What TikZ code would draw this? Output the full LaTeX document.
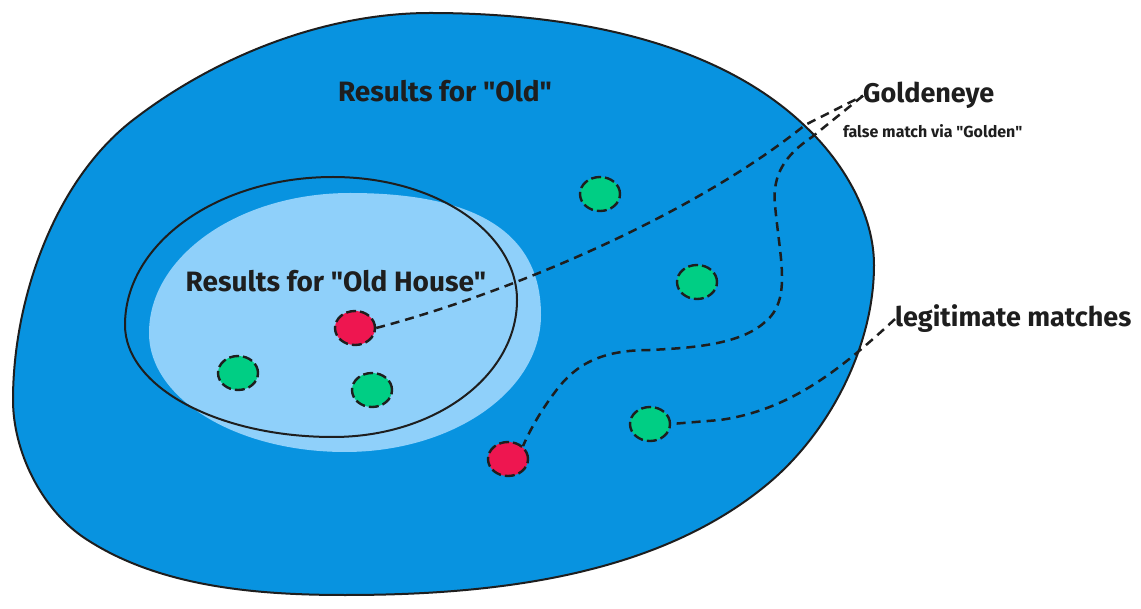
\documentclass[tikz,border=0pt]{standalone}
\usepackage{fontspec}
\setmainfont{Fira Sans}
\usetikzlibrary{shapes.geometric, positioning}

\definecolor{oldblue}{HTML}{0893E0}
\definecolor{houseblue}{HTML}{8FD0FA}
\definecolor{falsered}{HTML}{EE1650}
\definecolor{hitgreen}{HTML}{00CE84}
\definecolor{ink}{HTML}{1E1E1E}
\newcommand{\qt}{\textquotedbl}

\begin{document}
\begin{tikzpicture}[x=1pt, y=-1pt,
    hit/.style={ellipse, draw=ink, line width=2.4pt, dash pattern=on 10pt off 4pt, minimum width=40pt, minimum height=34pt, inner sep=0pt},
    link/.style={draw=ink, line width=2.5pt, dash pattern=on 9pt off 6pt},
    bigtext/.style={font=\fontsize{27}{30}\selectfont\bfseries, text=ink, inner sep=0pt},
    titletext/.style={font=\fontsize{28}{31}\selectfont\bfseries, text=ink, inner sep=0pt},
    smalltext/.style={font=\fontsize{16}{19}\selectfont\bfseries, text=ink, inner sep=0pt},
]
\useasboundingbox (0,0) rectangle (1141,609);
\fill[white] (0,0) rectangle (1141,609);

% results for "Old"
\draw[ink, line width=2pt, fill=oldblue] (13,400)
    .. controls (13,300) and (54,181) .. (133,120)
    .. controls (216,56) and (325,13) .. (430,13)
    .. controls (560,13) and (713,37) .. (806,127)
    .. controls (843,162) and (874,214) .. (874,265)
    .. controls (874,345) and (831,430) .. (770,482)
    .. controls (658,577) and (492,595) .. (345,595)
    .. controls (256,595) and (157,587) .. (83,537)
    .. controls (41,508) and (13,451) .. cycle;

% results for "Old House"
\fill[houseblue] (149,333)
    .. controls (149,256) and (239,193) .. (350,193)
    .. controls (480,193) and (541,235) .. (541,315)
    .. controls (541,391) and (453,452) .. (345,452)
    .. controls (237,452) and (149,399) .. cycle;
\draw[ink, line width=2pt] (125,325)
    .. controls (125,243) and (218,177) .. (333,177)
    .. controls (435,177) and (517,232) .. (517,300)
    .. controls (517,376) and (435,437) .. (333,437)
    .. controls (218,437) and (125,387) .. cycle;

% labels
\node[titletext, anchor=base] (oldtitle) at (445,102) {Results for \qt Old\qt};
\node[titletext, anchor=base] (housetitle) at (336,292) {Results for \qt Old House\qt};
\node[bigtext, anchor=base west] (golden) at (863,103) {Goldeneye};
\node[smalltext, anchor=base west] (falsematch) at (843,138) {false match via \qt Golden\qt};
\node[bigtext, anchor=base west] (legit) at (895,327) {legitimate matches};

% hits
\node[hit, fill=hitgreen] (greenA) at (600,194) {};
\node[hit, fill=hitgreen] (greenB) at (697,282) {};
\node[hit, fill=hitgreen] (greenC) at (238,373) {};
\node[hit, fill=hitgreen] (greenD) at (372,390) {};
\node[hit, fill=hitgreen] (greenE) at (650,424) {};
\node[hit, fill=falsered] (redin) at (355,328) {};
\node[hit, fill=falsered] (redout) at (508,459) {};

% connectors
\draw[link] (redin.east) .. controls (520,290) and (700,210) .. (805,125) -- (golden.west);
\draw[link] (golden.west) -- (812,137) .. controls (785,155) and (772,175) .. (775,205)
    .. controls (780,260) and (792,300) .. (765,322) .. controls (740,345) and (690,348) .. (650,350)
    .. controls (600,350) and (575,365) .. (555,392) .. controls (540,412) and (530,430) .. (redout.north east);
\draw[link] (legit.west) .. controls (840,370) and (790,410) .. (720,420) -- (greenE.east);

\end{tikzpicture}
\end{document}
